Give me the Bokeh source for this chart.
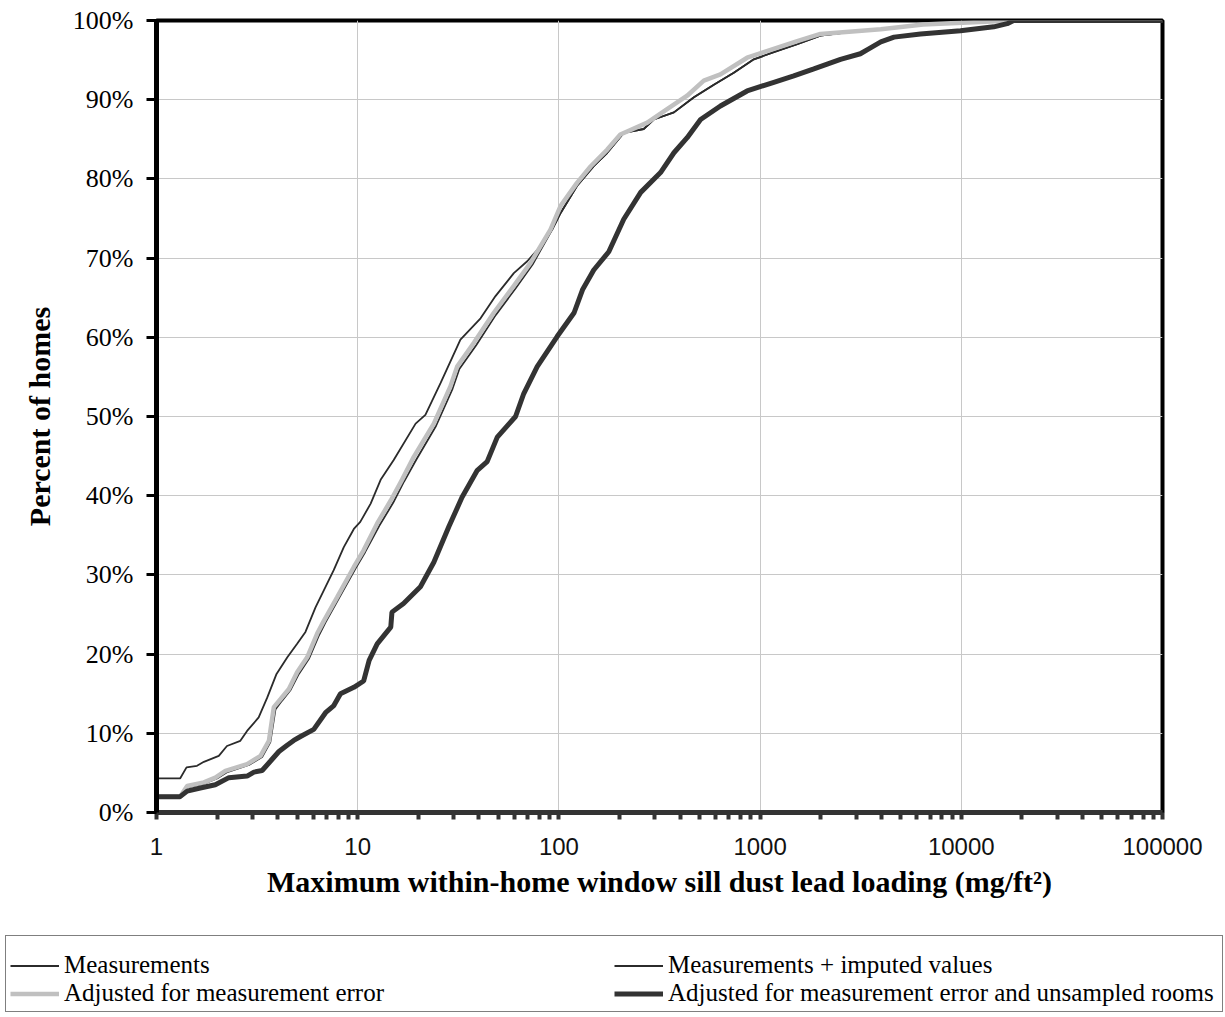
from bokeh.plotting import figure
from bokeh.layouts import column
from bokeh.models import (Range1d, FixedTicker, PrintfTickFormatter, Legend, LegendItem)
from bokeh.embed import file_html
from bokeh.resources import INLINE

# ---------------- data ----------------
# x: maximum within-home window sill dust lead loading; y: percent of homes
meas_x = [1, 1.31, 1.41, 1.59, 1.72, 2.04, 2.24, 2.61, 2.82, 3.22, 3.55, 3.95, 4.47, 5.0,
          5.5, 6.17, 6.92, 7.6, 8.53, 9.57, 10.3, 11.6, 13.0, 15.1, 19.4, 21.7, 25.8, 32.4,
          40.8, 48.4, 59.7, 69.6, 81, 92.6, 102, 123, 149, 174, 210, 264, 296, 373, 469,
          589, 740, 931, 1170, 1530, 1995, 2710, 3980, 6460, 18200, 100000]
meas_y = [4.3, 4.3, 5.7, 5.9, 6.4, 7.15, 8.4, 9.05, 10.3, 12.0, 14.5, 17.5, 19.6, 21.3,
          22.8, 25.9, 28.5, 30.6, 33.5, 35.8, 36.7, 39.0, 42.0, 44.5, 49.1, 50.2, 54.2, 59.7,
          62.4, 65.2, 68.1, 69.6, 71.5, 73.6, 75.7, 79.1, 81.6, 83.3, 85.8, 86.3, 87.5, 88.4, 90.3,
          91.9, 93.4, 95.1, 96.0, 97.0, 98.1, 98.5, 98.9, 99.5, 100, 100]

imp_x = [1, 1.31, 1.43, 1.75, 2.0, 2.25, 2.88, 3.35, 3.68, 3.9, 4.2, 4.62, 5.1, 5.72, 6.4,
         6.92, 8.05, 9.75, 10.9, 12.8, 15.0, 17.0, 19.6, 24.5, 29.6, 32.0, 38.8, 48.5, 61,
         74, 92.6, 102, 123, 149, 174, 210, 264, 296, 373, 469, 589, 740, 931, 1170, 1530,
         1995, 2710, 3980, 6460, 18200, 100000]
imp_y = [2.0, 2.0, 3.2, 3.7, 4.3, 5.1, 6.0, 7.0, 8.9, 13.0, 14.1, 15.4, 17.5, 19.4, 22.3,
         24.0, 27.0, 30.8, 32.9, 36.2, 39.1, 41.8, 44.6, 48.8, 53.5, 56.0, 59.0, 62.8, 66.2,
         69.2, 73.6, 75.7, 79.1, 81.6, 83.3, 85.8, 86.3, 87.5, 88.4, 90.3, 91.9, 93.4, 95.1, 96.0, 97.0,
         98.1, 98.5, 98.9, 99.5, 100, 100]

adj_x = [1, 1.31, 1.42, 1.72, 1.96, 2.2, 2.82, 3.29, 3.62, 3.83, 4.13, 4.55, 5.0, 5.61, 6.29,
         6.79, 7.91, 9.57, 10.7, 12.5, 14.6, 16.6, 19.0, 23.9, 28.9, 31.2, 37.8, 47.5, 59.7,
         72.3, 90.8, 102, 123, 144, 174, 202, 275, 345, 434, 525, 635, 862, 1043, 1530,
         1995, 3980, 6460, 18200, 100000]
adj_y = [2.0, 2.0, 3.35, 3.8, 4.4, 5.25, 6.1, 7.15, 9.05, 13.3, 14.3, 15.6, 17.7, 19.6, 22.6,
         24.2, 27.2, 31.0, 33.1, 36.5, 39.4, 42.0, 44.9, 49.1, 53.8, 56.3, 59.3, 63.1, 66.5,
         69.4, 73.6, 76.6, 79.5, 81.6, 83.7, 85.6, 87.1, 88.8, 90.5, 92.4, 93.2, 95.3, 96.0, 97.4,
         98.3, 98.9, 99.5, 100, 100]

rooms_x = [1, 1.31, 1.42, 1.65, 1.96, 2.29, 2.82, 3.05, 3.35, 3.69, 4.06, 4.46, 4.81, 5.2,
           6.05, 6.92, 7.61, 8.21, 9.57, 10.7, 11.4, 12.5, 14.6, 14.8, 16.9, 20.5, 23.9, 28.4,
           33, 39.3, 44, 49.4, 60.9, 66.9, 78, 98, 119, 131, 149, 177, 210, 255, 320, 373,
           434, 506, 635, 862, 1170, 1470, 1850, 2510, 3150, 3400, 3980, 4630, 6270, 9910,
           14500, 16900, 18200, 100000]
rooms_y = [2.0, 2.0, 2.7, 3.1, 3.5, 4.4, 4.6, 5.1, 5.3, 6.5, 7.7, 8.5, 9.1, 9.6,
           10.5, 12.6, 13.5, 15.0, 15.8, 16.6, 19.2, 21.3, 23.4, 25.3, 26.4, 28.5, 31.6, 36.1,
           39.8, 43.2, 44.3, 47.4, 50.0, 52.9, 56.3, 60.1, 63.1, 66.0, 68.5, 70.8, 74.9, 78.3, 80.8, 83.3,
           85.2, 87.5, 89.2, 91.1, 92.2, 93.0, 93.9, 95.1, 95.8, 96.3, 97.3, 97.9, 98.3, 98.7,
           99.2, 99.6, 100, 100]

x_ticks = [1, 10, 100, 1000, 10000, 100000]
x_tick_labels = ["1", "10", "100", "1000", "10000", "100000"]
x_minor = [m * d for d in [1, 10, 100, 1000, 10000] for m in range(2, 10)]
y_ticks = list(range(0, 101, 10))

labels = ["Measurements", "Measurements + imputed values",
          "Adjusted for measurement error",
          "Adjusted for measurement error and unsampled rooms"]

styles = [dict(line_color="#2b2b2b", line_width=1.8),
          dict(line_color="#2b2b2b", line_width=1.8),
          dict(line_color="#c0c0c0", line_width=4.5),
          dict(line_color="#333333", line_width=5)]

# ---------------- main chart ----------------
p = figure(width=1225, height=930, x_axis_type="log",
           x_range=Range1d(1, 100000), y_range=Range1d(0, 100),
           output_backend="svg", toolbar_location=None,
           min_border_left=156, min_border_right=63,
           min_border_top=20, min_border_bottom=118)

p.background_fill_color = "white"
p.border_fill_color = "white"
p.outline_line_color = "black"
p.outline_line_width = 4

p.xgrid.grid_line_color = "#c8c8c8"
p.xgrid.grid_line_width = 1
p.ygrid.grid_line_color = "#c8c8c8"
p.ygrid.grid_line_width = 1

xa = p.xaxis[0]
xa.ticker = FixedTicker(ticks=x_ticks, minor_ticks=x_minor)
xa.major_label_overrides = {t: s for t, s in zip(x_ticks, x_tick_labels)}
xa.axis_line_color = "#333333"
xa.axis_line_width = 5
xa.major_tick_line_color = "#333333"
xa.major_tick_line_width = 4
xa.major_tick_in = 0
xa.major_tick_out = 7
xa.minor_tick_line_color = "#333333"
xa.minor_tick_line_width = 4
xa.minor_tick_in = 0
xa.minor_tick_out = 7
xa.major_label_text_font = "Liberation Sans"
xa.major_label_text_font_size = "24px"
xa.major_label_text_color = "#111111"
xa.major_label_standoff = 18
xa.axis_label = "Maximum within-home window sill dust lead loading (mg/ft\u00b2)"
xa.axis_label_text_font = "Liberation Serif"
xa.axis_label_text_font_style = "bold"
xa.axis_label_text_font_size = "30px"
xa.axis_label_text_color = "black"
xa.axis_label_standoff = 7

ya = p.yaxis[0]
ya.ticker = FixedTicker(ticks=y_ticks, minor_ticks=[])
ya.formatter = PrintfTickFormatter(format="%d%%")
ya.axis_line_color = "black"
ya.axis_line_width = 5
ya.major_tick_line_color = "black"
ya.major_tick_line_width = 3
ya.major_tick_in = 0
ya.major_tick_out = 10
ya.minor_tick_line_color = None
ya.major_label_text_font = "Liberation Serif"
ya.major_label_text_font_size = "26px"
ya.major_label_text_color = "black"
ya.major_label_standoff = 13
ya.axis_label = "Percent of homes"
ya.axis_label_text_font = "Liberation Serif"
ya.axis_label_text_font_style = "bold"
ya.axis_label_text_font_size = "30px"
ya.axis_label_text_color = "black"
ya.axis_label_standoff = 14

p.line(meas_x, meas_y, **styles[0])
p.line(imp_x, imp_y, **styles[1])
p.line(adj_x, adj_y, **styles[2])
p.line(rooms_x, rooms_y, **styles[3])

# ---------------- legend strip (same line styles, drawn by Bokeh's Legend) ----------------
q = figure(width=1225, height=87, x_range=Range1d(0, 1), y_range=Range1d(0, 1),
           output_backend="svg", toolbar_location=None,
           x_axis_location=None, y_axis_location=None,
           min_border=0, min_border_left=0, min_border_right=0,
           min_border_top=0, min_border_bottom=0)
q.outline_line_color = None
q.xgrid.visible = False
q.ygrid.visible = False
q.background_fill_color = "white"
q.border_fill_color = "white"

nan = float("nan")
items = []
for lab, st in zip(labels, styles):
    r = q.line([nan], [nan], **st)
    items.append(LegendItem(label=lab, renderers=[r]))

legend = Legend(items=items, location=(5, 5), orientation="horizontal", ncols=2,
                border_line_color="black", border_line_width=1,
                background_fill_color="white", background_fill_alpha=1,
                padding=4, spacing=0, margin=0,
                glyph_width=49, glyph_height=27, label_height=27,
                label_width=550, label_standoff=5,
                label_text_font="Liberation Serif", label_text_font_size="25px",
                label_text_color="black",
                title=" ", title_text_font_size="10px", title_standoff=0)
q.add_layout(legend, "center")

layout = column(column(p), column(q), spacing=0)
open("out.html", "w").write(file_html(layout, INLINE))
